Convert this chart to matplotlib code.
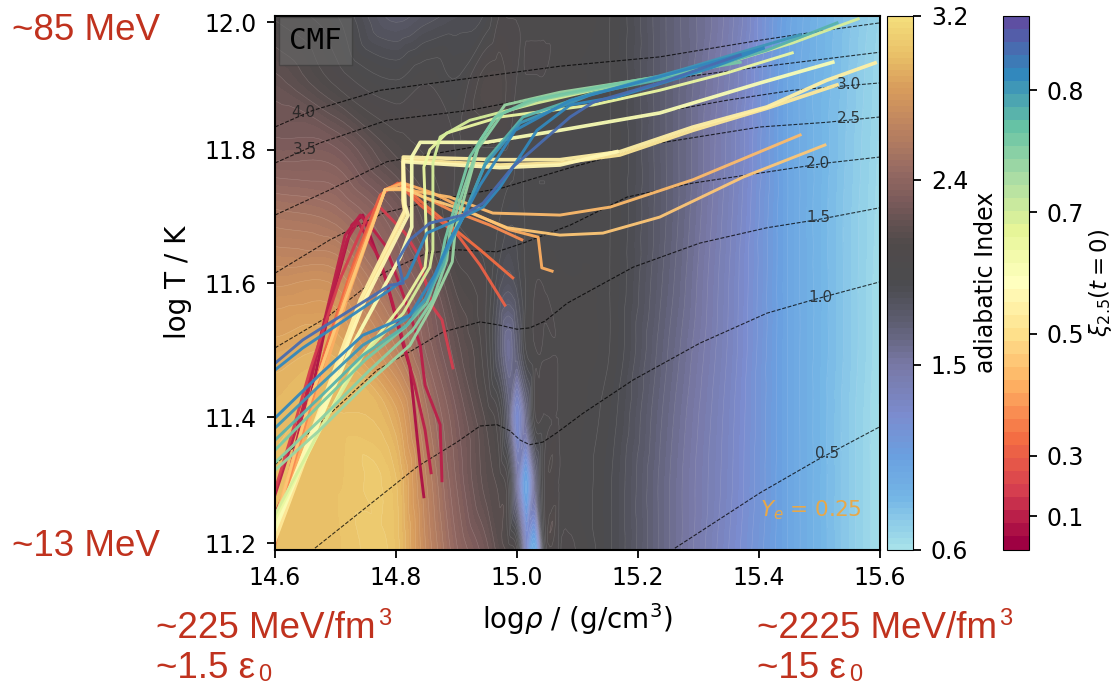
import matplotlib
matplotlib.use("Agg")
import matplotlib.pyplot as plt
import matplotlib.tri as mtri
from matplotlib.colors import LinearSegmentedColormap, Normalize
from matplotlib.cm import ScalarMappable
import numpy as np

rho_grid = [14.6, 14.7, 14.8, 14.85, 14.9, 14.95, 14.97, 14.985, 15.0, 15.015, 15.03, 15.045,
            15.07, 15.15, 15.25, 15.35, 15.45, 15.55, 15.6]
temp_grid = [12.0, 11.9, 11.8, 11.7, 11.6, 11.5, 11.4, 11.3, 11.2]
gamma_grid = [
    [2.05, 1.95, 1.75, 1.80, 1.85, 1.90, 2.00, 2.00, 2.00, 2.00, 2.00, 2.00, 2.00, 1.95, 1.70, 1.45, 1.02, 0.78, 0.68],
    [2.20, 2.05, 1.95, 2.00, 1.95, 2.10, 2.10, 2.05, 2.00, 2.00, 2.00, 2.00, 1.98, 1.95, 1.70, 1.42, 1.00, 0.77, 0.66],
    [2.32, 2.30, 2.10, 2.05, 2.00, 2.00, 2.00, 2.00, 1.95, 1.95, 1.95, 1.95, 1.95, 1.95, 1.70, 1.40, 1.00, 0.76, 0.65],
    [2.55, 2.50, 2.30, 2.15, 2.00, 1.95, 1.95, 1.90, 1.90, 1.95, 1.95, 1.95, 1.95, 1.95, 1.70, 1.38, 1.00, 0.75, 0.64],
    [2.75, 2.75, 2.45, 2.30, 2.10, 2.00, 1.85, 1.80, 1.85, 1.95, 2.00, 2.00, 1.98, 1.95, 1.68, 1.36, 1.00, 0.75, 0.63],
    [2.90, 2.92, 2.65, 2.40, 2.20, 2.00, 1.75, 1.55, 1.70, 1.95, 2.00, 2.00, 2.00, 1.95, 1.65, 1.35, 1.00, 0.75, 0.63],
    [2.98, 3.00, 2.90, 2.55, 2.30, 2.10, 2.00, 1.70, 1.25, 1.60, 2.00, 2.00, 2.00, 1.92, 1.62, 1.33, 1.00, 0.74, 0.62],
    [3.00, 3.02, 3.00, 2.65, 2.35, 2.15, 2.10, 2.00, 1.50, 1.00, 1.60, 2.00, 2.00, 1.90, 1.60, 1.32, 1.00, 0.74, 0.62],
    [3.00, 3.02, 3.02, 2.70, 2.42, 2.25, 2.15, 2.10, 2.00, 1.30, 0.90, 1.90, 2.00, 1.90, 1.60, 1.30, 1.00, 0.74, 0.62],
]

# dashed lines of constant entropy
iso_labels = ["4.0", "3.5", "3.0", "2.5", "2.0", "1.5", "1.0", "0.5"]
iso_rho = [
    [14.6, 14.663, 14.774, 14.922, 15.071, 15.236, 15.402, 15.512, 15.6],
    [14.6, 14.674, 14.785, 14.922, 15.071, 15.236, 15.402, 15.6],
    [14.6, 14.691, 14.785, 14.922, 15.071, 15.182, 15.347, 15.456, 15.6],
    [14.6, 14.691, 14.779, 14.868, 14.977, 15.088, 15.236, 15.402, 15.512, 15.6],
    [14.6, 14.686, 14.779, 14.851, 14.901, 14.967, 15.01, 15.088, 15.182, 15.291, 15.402, 15.512, 15.6],
    [14.6, 14.769, 14.828, 14.878, 14.939, 14.972, 15.0, 15.021, 15.046, 15.083, 15.192, 15.302, 15.413, 15.496, 15.6],
    [14.666, 14.835, 14.901, 14.939, 14.967, 14.988, 15.005, 15.021, 15.043, 15.066, 15.109, 15.192, 15.302, 15.413, 15.489, 15.6],
    [15.261, 15.402, 15.496, 15.6],
]
iso_temp = [
    [11.833, 11.858, 11.888, 11.906, 11.924, 11.938, 11.963, 11.978, 11.989],
    [11.779, 11.809, 11.843, 11.858, 11.884, 11.903, 11.923, 11.945],
    [11.701, 11.739, 11.781, 11.802, 11.828, 11.846, 11.873, 11.888, 11.899],
    [11.614, 11.664, 11.704, 11.724, 11.742, 11.772, 11.809, 11.833, 11.84, 11.848],
    [11.502, 11.548, 11.614, 11.644, 11.649, 11.646, 11.659, 11.686, 11.728, 11.749, 11.764, 11.779, 11.788],
    [11.327, 11.469, 11.499, 11.526, 11.541, 11.536, 11.53, 11.532, 11.542, 11.569, 11.623, 11.659, 11.682, 11.694, 11.712],
    [11.202, 11.324, 11.361, 11.385, 11.387, 11.378, 11.364, 11.357, 11.361, 11.375, 11.404, 11.454, 11.509, 11.554, 11.574, 11.601],
    [11.202, 11.285, 11.334, 11.384],
]
iso_label_rho = [14.646, 14.65, 15.549, 15.549, 15.498, 15.498, 15.501, 15.512]
iso_label_temp = [11.854, 11.799, 11.896, 11.845, 11.778, 11.697, 11.578, 11.344]

# merger trajectories, xi is the position on the colour bar
xi_values = [0.03, 0.05, 0.07, 0.12, 0.18, 0.20, 0.25, 0.30, 0.33, 0.36, 0.42, 0.45, 0.48,
             0.52, 0.58, 0.63, 0.72, 0.75, 0.78, 0.82, 0.86, 0.88, 0.90, 0.93]
traj_rho = [
    [14.846, 14.84, 14.823, 14.812, 14.782, 14.745, 14.727, 14.691, 14.658, 14.625, 14.602],
    [14.858, 14.848, 14.831, 14.807, 14.774, 14.737, 14.719, 14.683, 14.65, 14.617, 14.6],
    [14.876, 14.873, 14.848, 14.84, 14.815, 14.782, 14.765, 14.741, 14.716, 14.678, 14.645, 14.608, 14.6],
    [14.894, 14.876, 14.861, 14.835, 14.815, 14.77, 14.752, 14.707, 14.658, 14.625, 14.6],
    [14.98, 14.939, 14.902, 14.84, 14.803, 14.774, 14.732, 14.683, 14.641, 14.6],
    [14.993, 14.939, 14.898, 14.848, 14.807, 14.782, 14.724, 14.674, 14.633, 14.6],
    [15.008, 14.955, 14.889, 14.84, 14.81, 14.782, 14.724, 14.674, 14.625, 14.6],
    [15.058, 15.041, 15.035, 14.988, 14.927, 14.861, 14.812, 14.782, 14.724, 14.674, 14.633, 14.6],
    [15.468, 15.291, 15.154, 15.071, 14.96, 14.889, 14.818, 14.782, 14.716, 14.658, 14.6],
    [15.509, 15.374, 15.236, 15.142, 15.071, 14.984, 14.911, 14.845, 14.812, 14.782, 14.716, 14.658, 14.6],
    [15.529, 15.413, 15.291, 15.17, 15.071, 14.972, 14.812, 14.812, 14.815, 14.741, 14.674, 14.6],
    [15.592, 15.512, 15.413, 15.291, 15.17, 15.071, 14.972, 14.812, 14.812, 14.815, 14.741, 14.674, 14.6],
    [15.165, 15.071, 14.972, 14.812, 14.815, 14.82, 14.749, 14.683, 14.6],
    [15.522, 15.402, 15.236, 15.071, 14.95, 14.84, 14.826, 14.826, 14.807, 14.724, 14.674, 14.6],
    [15.455, 15.347, 15.236, 15.126, 14.972, 14.884, 14.856, 14.846, 14.851, 14.848, 14.812, 14.729, 14.666, 14.6],
    [15.564, 15.456, 15.291, 15.126, 15.033, 14.922, 14.873, 14.861, 14.861, 14.856, 14.812, 14.745, 14.674, 14.6],
    [15.22, 15.071, 14.98, 14.939, 14.914, 14.898, 14.893, 14.856, 14.823, 14.749, 14.674, 14.6],
    [15.303, 15.137, 15.033, 14.977, 14.934, 14.906, 14.889, 14.884, 14.861, 14.828, 14.757, 14.674, 14.6],
    [15.369, 15.154, 15.022, 14.964, 14.922, 14.898, 14.881, 14.873, 14.851, 14.815, 14.749, 14.674, 14.6],
    [15.529, 15.413, 15.291, 15.126, 15.01, 14.95, 14.911, 14.889, 14.878, 14.851, 14.818, 14.745, 14.674, 14.6],
    [15.468, 15.269, 15.121, 15.005, 14.947, 14.911, 14.898, 14.878, 14.848, 14.815, 14.745, 14.674, 14.6],
    [15.407, 15.236, 15.088, 14.997, 14.939, 14.911, 14.889, 14.864, 14.823, 14.745, 14.674, 14.6],
    [15.407, 15.319, 15.165, 15.088, 15.033, 14.972, 14.944, 14.894, 14.851, 14.818, 14.79, 14.646, 14.6],
    [15.369, 15.236, 15.126, 15.088, 14.993, 14.944, 14.911, 14.856, 14.823, 14.803, 14.812, 14.79, 14.646, 14.6],
]
traj_temp = [
    [11.279, 11.324, 11.473, 11.506, 11.608, 11.701, 11.686, 11.566, 11.424, 11.309, 11.244],
    [11.315, 11.379, 11.446, 11.529, 11.634, 11.691, 11.664, 11.544, 11.417, 11.289, 11.252],
    [11.303, 11.387, 11.446, 11.506, 11.574, 11.656, 11.676, 11.701, 11.671, 11.529, 11.409, 11.304, 11.282],
    [11.472, 11.544, 11.563, 11.644, 11.674, 11.716, 11.698, 11.604, 11.469, 11.364, 11.289],
    [11.566, 11.626, 11.671, 11.716, 11.749, 11.731, 11.634, 11.499, 11.364, 11.229],
    [11.607, 11.649, 11.679, 11.716, 11.749, 11.739, 11.611, 11.469, 11.334, 11.214],
    [11.664, 11.686, 11.709, 11.731, 11.749, 11.739, 11.604, 11.462, 11.304, 11.207],
    [11.617, 11.622, 11.668, 11.679, 11.704, 11.734, 11.749, 11.739, 11.589, 11.446, 11.319, 11.214],
    [11.821, 11.754, 11.713, 11.701, 11.704, 11.728, 11.739, 11.739, 11.574, 11.424, 11.244],
    [11.806, 11.758, 11.698, 11.674, 11.671, 11.682, 11.709, 11.728, 11.742, 11.739, 11.574, 11.424, 11.237],
    [11.896, 11.861, 11.828, 11.791, 11.779, 11.776, 11.784, 11.719, 11.704, 11.566, 11.394, 11.214],
    [11.929, 11.903, 11.863, 11.833, 11.796, 11.784, 11.784, 11.788, 11.724, 11.709, 11.574, 11.409, 11.229],
    [11.796, 11.776, 11.772, 11.781, 11.716, 11.701, 11.574, 11.424, 11.237],
    [11.93, 11.899, 11.854, 11.828, 11.81, 11.81, 11.788, 11.683, 11.638, 11.499, 11.394, 11.229],
    [11.944, 11.914, 11.888, 11.866, 11.848, 11.824, 11.799, 11.773, 11.649, 11.623, 11.569, 11.473, 11.364, 11.244],
    [11.995, 11.959, 11.914, 11.888, 11.869, 11.843, 11.818, 11.779, 11.649, 11.623, 11.554, 11.491, 11.379, 11.252],
    [11.906, 11.885, 11.866, 11.813, 11.731, 11.679, 11.631, 11.559, 11.506, 11.446, 11.379, 11.319],
    [11.915, 11.891, 11.873, 11.854, 11.799, 11.724, 11.674, 11.634, 11.574, 11.529, 11.469, 11.394, 11.33],
    [11.93, 11.896, 11.873, 11.848, 11.788, 11.716, 11.664, 11.626, 11.569, 11.533, 11.484, 11.417, 11.349],
    [11.989, 11.948, 11.914, 11.884, 11.848, 11.784, 11.698, 11.664, 11.626, 11.578, 11.536, 11.491, 11.428, 11.364],
    [11.971, 11.918, 11.881, 11.839, 11.776, 11.698, 11.674, 11.637, 11.574, 11.544, 11.506, 11.446, 11.382],
    [11.951, 11.908, 11.873, 11.828, 11.746, 11.698, 11.664, 11.611, 11.551, 11.521, 11.462, 11.397],
    [11.951, 11.921, 11.878, 11.866, 11.828, 11.743, 11.713, 11.691, 11.674, 11.608, 11.589, 11.502, 11.469],
    [11.941, 11.899, 11.87, 11.848, 11.773, 11.719, 11.701, 11.689, 11.664, 11.634, 11.599, 11.596, 11.514, 11.479],
]

# tick positions as they sit in the picture
rho_ticks = [14.6, 14.8, 15.0, 15.2, 15.4, 15.6]
temp_ticks = [11.209, 11.398, 11.599, 11.799, 11.99]
temp_tick_labels = ["11.2", "11.4", "11.6", "11.8", "12.0"]
gamma_ticks = [0.6, 1.5, 2.4, 3.2]
xi_ticks = [0.062, 0.176, 0.404, 0.632, 0.86]
xi_tick_labels = ["0.1", "0.3", "0.5", "0.7", "0.8"]

# colours of the adiabatic index bar
gamma_stops = [0.6, 0.85, 1.05, 1.25, 1.5, 1.7, 1.9, 2.1, 2.3, 2.45, 2.65, 2.85, 3.0, 3.2]
gamma_colors = ["#a9e3ea", "#74b6e6", "#6aa0e0", "#7b8ccf", "#7878a5", "#5e5e72", "#4b4b4e",
                "#504a4a", "#7a5a5a", "#966a62", "#bb8260", "#d89c5c", "#e8bd66", "#f5df7c"]
W, H = 1118, 686
red = "#c0321e"

gamma_pos = [(v - 0.6) / 2.6 for v in gamma_stops]
gamma_cmap = LinearSegmentedColormap.from_list("gamma", list(zip(gamma_pos, gamma_colors)))
xi_cmap = plt.get_cmap("Spectral", 41)

fig = plt.figure(figsize=(W / 100, H / 100), dpi=100)
ax = fig.add_axes([275 / W, 1 - 549.5 / H, 605 / W, 534 / H])

# smooth the table with a triangulation, 'geom' rings less than the default on this uneven grid
rr, tt = np.meshgrid(rho_grid, temp_grid)
tri = mtri.Triangulation(rr.ravel(), tt.ravel())
gamma_flat = np.array(gamma_grid).ravel()
interp = mtri.CubicTriInterpolator(tri, gamma_flat, kind="geom")
refiner = mtri.UniformTriRefiner(tri)
fine_tri, fine_gamma = refiner.refine_field(gamma_flat, triinterpolator=interp, subdiv=3)
fine_gamma = np.clip(fine_gamma, 0.6, 3.2)
levels = np.linspace(0.6, 3.2, 90)
cf = ax.tricontourf(fine_tri, fine_gamma, levels=levels, cmap=gamma_cmap)
ax.tricontour(fine_tri, fine_gamma, levels=levels[::2], colors="white", linewidths=0.4, alpha=0.16)

for r, t in zip(iso_rho, iso_temp):
    ax.plot(r, t, color="black", ls="--", lw=0.8, alpha=0.75, dashes=(3.5, 1.5))
for lab, r, t in zip(iso_labels, iso_label_rho, iso_label_temp):
    ax.text(r, t, lab, fontsize=11, color="#222222", alpha=0.85, ha="center", va="center")

for xi, r, t in zip(xi_values, traj_rho, traj_temp):
    width = 2.6 if 0.4 < xi < 0.56 else 2.1
    ax.plot(r, t, color=xi_cmap(xi), lw=width, alpha=0.95, solid_joinstyle="round")

ax.text(15.402, 11.25, r"$Y_e$ = 0.25", fontsize=15.5, color="#e8a848")
ax.text(14.623, 11.962, "CMF", fontsize=21, family="DejaVu Sans Mono", color="black", va="center",
        bbox=dict(facecolor="#6a6a6a", edgecolor="#3a3a3a", alpha=0.6, boxstyle="square,pad=0.35"))

ax.set_xlim(14.6, 15.6)
ax.set_ylim(11.2, 12.0)
ax.set_xticks(rho_ticks)
ax.set_yticks(temp_ticks, temp_tick_labels)
ax.tick_params(labelsize=17, width=1.3, length=5.8)
ax.tick_params(axis="x", pad=6)
ax.tick_params(axis="y", pad=7.5)
ax.set_xlabel(r"log$\rho$ / (g/cm$^3$)", fontsize=20, labelpad=8)
ax.set_ylabel("log T / K", fontsize=20, labelpad=9)
for s in ax.spines.values():
    s.set_linewidth(1.5)

cax1 = fig.add_axes([887 / W, 1 - 549.5 / H, 26 / W, 534 / H])
cb1 = fig.colorbar(cf, cax=cax1, ticks=gamma_ticks)
cb1.ax.set_yticklabels(["0.6", "1.5", "2.4", "3.2"])
cb1.ax.tick_params(labelsize=17, width=1.3, length=5.8, pad=7)
cb1.set_label("adiabatic Index", fontsize=17, labelpad=4)

cax2 = fig.add_axes([1003 / W, 1 - 549.5 / H, 26 / W, 534 / H])
cb2 = fig.colorbar(ScalarMappable(Normalize(0, 1), xi_cmap), cax=cax2, ticks=xi_ticks)
cb2.ax.set_yticklabels(xi_tick_labels)
cb2.ax.tick_params(labelsize=17, width=1.3, length=5.8, pad=7)
cb2.set_label(r"$\xi_{2.5}(t=0)$", fontsize=16.5, labelpad=2)

# red slide annotations
slide = dict(family="Liberation Sans", color=red, fontsize=26.5, va="baseline")
sup = dict(family="Liberation Sans", color=red, fontsize=17, va="baseline")
fig.text(12 / W, 1 - 40 / H, "~85 MeV", **slide)
fig.text(12 / W, 1 - 556 / H, "~13 MeV", **slide)
fig.text(156 / W, 1 - 638 / H, "~225 MeV/fm", **slide)
fig.text(378 / W, 1 - 625 / H, "3", **sup)
fig.text(156 / W, 1 - 678 / H, "~1.5 ε", **slide)
fig.text(258 / W, 1 - 681 / H, "0", **sup)
fig.text(757 / W, 1 - 638 / H, "~2225 MeV/fm", **slide)
fig.text(999 / W, 1 - 625 / H, "3", **sup)
fig.text(757 / W, 1 - 678 / H, "~15 ε", **slide)
fig.text(849 / W, 1 - 681 / H, "0", **sup)

fig.savefig("out.png", dpi=100)
